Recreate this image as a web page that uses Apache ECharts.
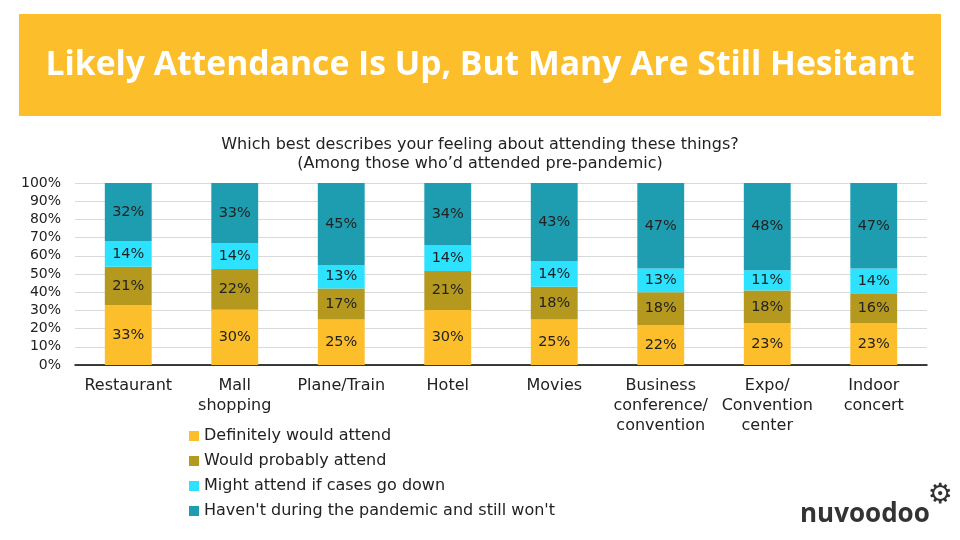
<!DOCTYPE html>
<html><head><meta charset="utf-8">
<script src="https://cdn.jsdelivr.net/npm/echarts@6/dist/echarts.min.js"></script>
<style>html,body{margin:0;padding:0;background:#fff}#c{width:960px;height:540px}</style>
</head><body><div id="c"></div>
<script>
const categories = ['Restaurant', 'Mall\nshopping', 'Plane/Train', 'Hotel', 'Movies', 'Business\nconference/\nconvention', 'Expo/\nConvention\ncenter', 'Indoor\nconcert'];
const seriesNames = ['Definitely would attend', 'Would probably attend', 'Might attend if cases go down', "Haven't during the pandemic and still won't"];
const definitely = [33, 30.4, 25, 30.2, 25, 22, 23, 23];
const probably = [21, 22.3, 17, 21.4, 18, 18, 18, 16];
const might = [14, 14.3, 13, 14.4, 14, 13, 11, 14];
const wont = [32, 33, 45, 34, 43, 47, 48, 47];
const yTicks = [0, 10, 20, 30, 40, 50, 60, 70, 80, 90, 100];
const colors = ['#FDBE2B', '#B5991F', '#2CE2FF', '#1E9DB1'];
const font = 'DejaVu Sans';

const chart = echarts.init(document.getElementById('c'));
const values = [definitely, probably, might, wont];
chart.setOption({
  animation: false,
  textStyle: { fontFamily: font },
  graphic: [
    { type: 'rect', shape: { x: 19, y: 14, width: 922, height: 102 }, style: { fill: '#FDBE2B' } },
    { type: 'text', x: 480, y: 65, style: { text: 'Likely Attendance Is Up, But Many Are Still Hesitant', fill: '#fff', font: 'bold 33.7px "Open Sans"', align: 'center', verticalAlign: 'middle' } },
    { type: 'text', x: 480, y: 145, style: { text: 'Which best describes your feeling about attending these things?', fill: '#222', font: '16px "DejaVu Sans"', align: 'center', verticalAlign: 'middle' } },
    { type: 'text', x: 480, y: 164, style: { text: '(Among those who\u2019d attended pre-pandemic)', fill: '#222', font: '16px "DejaVu Sans"', align: 'center', verticalAlign: 'middle' } },
    { type: 'text', x: 800, y: 515, style: { text: 'nuvoodoo', fill: '#333', font: 'bold 26px "Open Sans"', align: 'left', verticalAlign: 'middle' } },
    { type: 'text', x: 940, y: 496, style: { text: '\u2699', fill: '#333', font: '28px "DejaVu Sans"', align: 'center', verticalAlign: 'middle' } }
  ],
  legend: {
    orient: 'vertical', left: 184, top: 422,
    itemWidth: 10, itemHeight: 10, itemGap: 7,
    icon: 'rect',
    textStyle: { fontSize: 16, color: '#222', fontFamily: font, lineHeight: 18 },
    data: seriesNames
  },
  grid: { left: 75, right: 33, top: 183, bottom: 175, containLabel: false },
  xAxis: {
    type: 'category', data: categories,
    axisLine: { lineStyle: { color: '#000', width: 1.5 } },
    axisTick: { show: false },
    axisLabel: { fontSize: 16, color: '#222', lineHeight: 20, margin: 11, interval: 0 }
  },
  yAxis: {
    type: 'value', min: 0, max: 100, interval: 10,
    axisLabel: { formatter: v => yTicks.includes(v) ? v + '%' : '', fontSize: 14, color: '#222', margin: 14 },
    splitLine: { lineStyle: { color: '#d9d9d9' } },
    axisLine: { show: false }, axisTick: { show: false }
  },
  series: seriesNames.map((n, i) => ({
    name: n, type: 'bar', stack: 'all', barWidth: '44%',
    data: values[i],
    itemStyle: { color: colors[i] },
    label: { show: true, position: 'inside', formatter: p => Math.round(p.value) + '%', fontSize: 14.5, color: '#222', fontFamily: font }
  }))
});
</script></body></html>
